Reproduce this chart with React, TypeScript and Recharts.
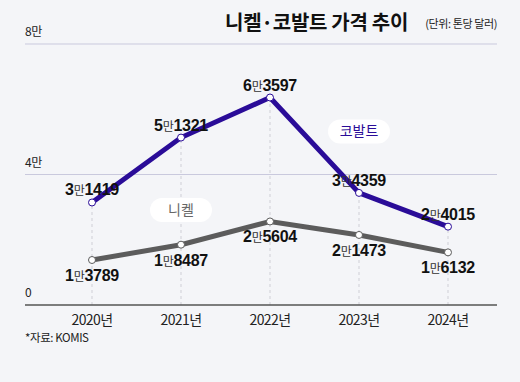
import React from 'react';
import { LineChart, Line, XAxis, YAxis, ReferenceLine, ReferenceDot, LabelList } from 'recharts';

const years = ['2020년', '2021년', '2022년', '2023년', '2024년'];
const cobalt = [31419, 51321, 63597, 34359, 24015];
const nickel = [13789, 18487, 25604, 21473, 16132];
const yTicks = [0, 40000, 80000];
const yTickLabels = ['0', '4만', '8만'];

const data = years.map((y, i) => ({ year: y, cobalt: cobalt[i], nickel: nickel[i] }));

const COBALT = '#2a0c98';
const NICKEL = '#5c5c5c';
const NUM_FONT = '"Liberation Sans Narrow", "Liberation Sans", Arial, sans-serif';
const KR_FONT = '"Noto Sans CJK KR", "Noto Sans", sans-serif';

function splitValue(v: number) {
  const man = Math.floor(v / 10000);
  const rest = String(v % 10000).padStart(4, '0');
  return { man: String(man), rest };
}

const makeLabel = (dy: number) => (props: any) => {
  const { x, y, value } = props;
  const { man, rest } = splitValue(Number(value));
  return (
    <text x={x} y={y + dy} textAnchor="middle" fontFamily={NUM_FONT} fontWeight={700} fontSize={16} fill="#111" letterSpacing={-0.3}>
      <tspan>{man}</tspan>
      <tspan fontFamily={KR_FONT} fontWeight={400} fontSize={12} fill="#333">만</tspan>
      <tspan>{rest}</tspan>
    </text>
  );
};

const yLabel = (text: string) => (props: any) => {
  const { viewBox } = props;
  return (
    <text x={viewBox.x} y={viewBox.y - 8} textAnchor="start" fontFamily={KR_FONT} fontSize={12} fill="#222" letterSpacing={-0.4}>
      {text}
    </text>
  );
};

const XTick = (props: any) => {
  const { x, y, payload } = props;
  return (
    <text x={x} y={y + 12} textAnchor="middle" fontFamily={KR_FONT} fontSize={14} fill="#222" letterSpacing={-0.6}>
      {payload.value}
    </text>
  );
};

const Pill = (text: string, color: string) => (props: any) => {
  const { cx, cy } = props;
  const w = 62;
  const h = 24;
  return (
    <g>
      <rect x={cx - w / 2} y={cy - h / 2} width={w} height={h} rx={12} ry={12} fill="#ffffff" />
      <text x={cx} y={cy + 5} textAnchor="middle" fontFamily={KR_FONT} fontSize={14} fill={color}>
        {text}
      </text>
    </g>
  );
};

const CobaltDot = (props: any) => {
  const { cx, cy } = props;
  return <circle cx={cx} cy={cy} r={3.5} fill="#fff" stroke={COBALT} strokeWidth={1} />;
};
const NickelDot = (props: any) => {
  const { cx, cy } = props;
  return <circle cx={cx} cy={cy} r={3.5} fill="#fff" stroke={NICKEL} strokeWidth={1} />;
};

export default function App() {
  return (
    <div style={{ position: 'absolute', left: 0, top: 0, width: 520, height: 382, background: '#f4f5f8' }}>
      <LineChart width={520} height={382} data={data} margin={{ top: 44, right: 23, left: 25, bottom: 47 }}>
        <XAxis
          dataKey="year"
          padding={{ left: 67, right: 49 }}
          axisLine={false}
          tickLine={false}
          tick={<XTick />}
          height={30}
          interval={0}
        />
        <YAxis hide domain={[0, 80000]} ticks={yTicks} />
        <ReferenceLine y={80000} stroke="#c9c9dd" strokeWidth={1} label={{ content: yLabel(yTickLabels[2]) } as any} />
        <ReferenceLine y={40000} stroke="#c9c9dd" strokeWidth={1} label={{ content: yLabel(yTickLabels[1]) } as any} />
        {years.map((yr, i) => (
          <ReferenceLine
            key={yr}
            segment={[{ x: yr, y: 0 }, { x: yr, y: cobalt[i] }]}
            stroke="#cfcfd6"
            strokeDasharray="3 3"
            strokeWidth={1}
          />
        ))}
        <ReferenceLine y={0} stroke="#555" strokeWidth={1.5} label={{ content: yLabel(yTickLabels[0]) } as any} />
        <Line
          dataKey="nickel"
          stroke={NICKEL}
          strokeWidth={5}
          dot={<NickelDot />}
          activeDot={false}
          isAnimationActive={false}
        >
          <LabelList dataKey="nickel" content={makeLabel(21)} />
        </Line>
        <Line
          dataKey="cobalt"
          stroke={COBALT}
          strokeWidth={5}
          dot={<CobaltDot />}
          activeDot={false}
          isAnimationActive={false}
        >
          <LabelList dataKey="cobalt" content={makeLabel(-7)} />
        </Line>
        <ReferenceDot x="2021년" y={29100} r={0} shape={Pill('니켈', '#666')} />
        <ReferenceDot x="2023년" y={53200} r={0} shape={Pill('코발트', COBALT)} />
        <text x={408} y={30} textAnchor="end" fontFamily={KR_FONT} fontWeight={700} fontSize={20} fill="#111" letterSpacing={-0.3}>
          니켈·코발트 가격 추이
        </text>
        <text x={497} y={28} textAnchor="end" fontFamily={KR_FONT} fontSize={11} fill="#222" letterSpacing={-0.4}>
          (단위: 톤당 달러)
        </text>
        <text x={25} y={342} textAnchor="start" fontFamily={KR_FONT} fontSize={11.5} fill="#222" letterSpacing={-0.4}>
          *자료: KOMIS
        </text>
      </LineChart>
    </div>
  );
}
